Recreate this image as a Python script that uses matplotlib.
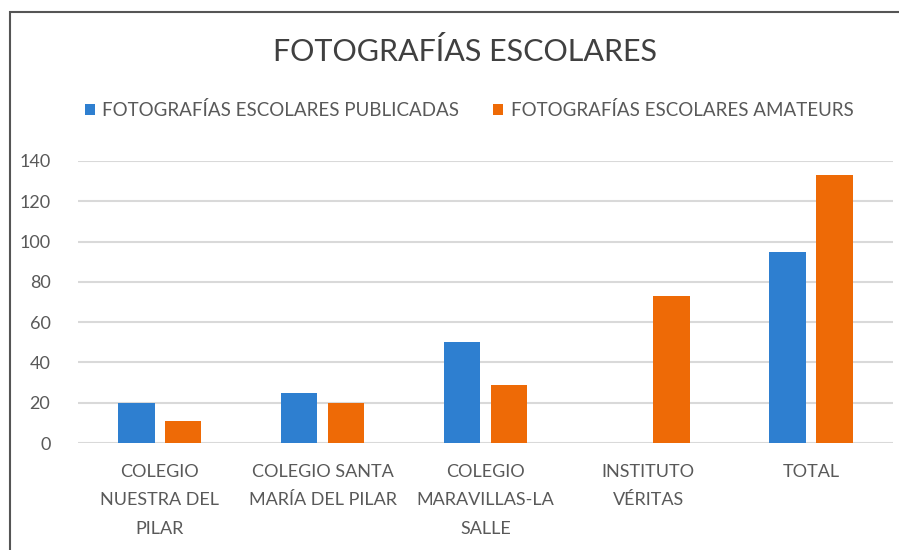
import numpy as np
import matplotlib.pyplot as plt
from matplotlib.patches import Rectangle

# datos
categorias = [
    "COLEGIO\nNUESTRA DEL\nPILAR",
    "COLEGIO SANTA\nMARÍA DEL PILAR",
    "COLEGIO\nMARAVILLAS-LA\nSALLE",
    "INSTITUTO\nVÉRITAS",
    "TOTAL",
]
publicadas = [20, 25, 50, 0, 95]
amateurs = [11, 20, 29, 73, 133]
nombres_series = ["FOTOGRAFÍAS ESCOLARES PUBLICADAS", "FOTOGRAFÍAS ESCOLARES AMATEURS"]
yticks = [0, 20, 40, 60, 80, 100, 120, 140]

AZUL = "#2E7FD0"
NARANJA = "#EE6A06"
GRIS_TEXTO = "#595959"

plt.rcParams["font.family"] = ["Lato", "DejaVu Sans"]

fig = plt.figure(figsize=(8.99, 5.5), dpi=100)
ax = fig.add_axes([0.087, 0.1945, 0.906, 0.5128])

x = np.arange(len(categorias))
ancho = 0.225
desp = 0.144
ax.bar(x - desp, publicadas, ancho, color=AZUL, label=nombres_series[0], zorder=3)
ax.bar(x + desp, amateurs, ancho, color=NARANJA, label=nombres_series[1], zorder=3)

ax.set_xlim(-0.5, len(categorias) - 0.5)
ax.set_ylim(0, 140)
ax.set_yticks(yticks)
ax.yaxis.grid(True, color="#D9D9D9", linewidth=1.5, zorder=0)
ax.set_axisbelow(True)
for s in ax.spines.values():
    s.set_visible(False)
ax.tick_params(axis="both", length=0, labelsize=13, colors=GRIS_TEXTO)
ax.tick_params(axis="y", pad=20)
ax.tick_params(axis="x", pad=15)
ax.set_xticks(x)
ax.set_xticklabels(categorias, linespacing=1.95)

fig.text(0.517, 0.907, "FOTOGRAFÍAS ESCOLARES", ha="center", va="center",
         fontsize=22, color="#404040")

ax.legend(loc="center", bbox_to_anchor=(0.48, 1.18), ncol=2, frameon=False,
          fontsize=13.5, handlelength=0.55, handleheight=0.55, handletextpad=0.4,
          columnspacing=1.8, labelcolor=GRIS_TEXTO)

# marco exterior
fig.patches.append(Rectangle((10 / 899, -0.1), 1.2, 1 - 12 / 550 + 0.1,
                             transform=fig.transFigure, fill=False,
                             edgecolor="#555555", linewidth=1.5))

fig.savefig("out.png", dpi=100)
